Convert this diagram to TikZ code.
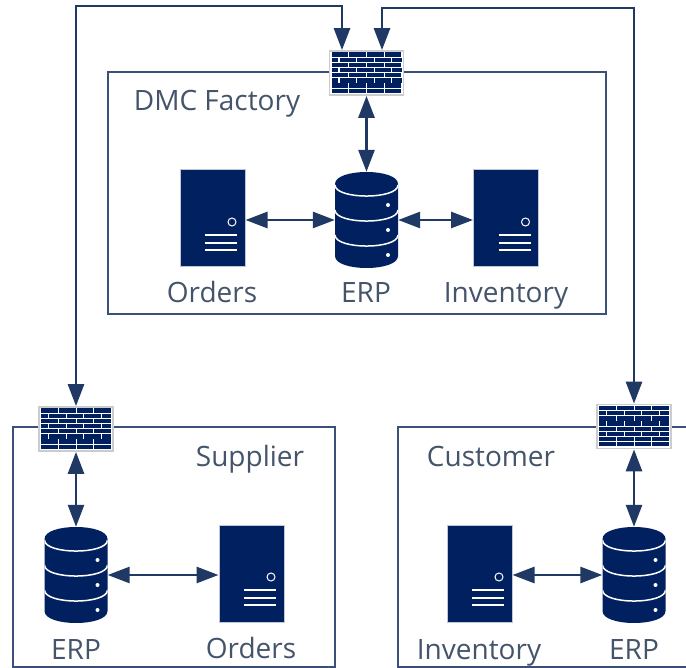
\documentclass[tikz,border=0pt]{standalone}
\usepackage{fontspec}
\setmainfont{Open Sans}
\usetikzlibrary{arrows.meta}
\definecolor{navy}{HTML}{002060}
\definecolor{linkblue}{HTML}{1F3864}
\definecolor{framec}{HTML}{3B5078}
\definecolor{labelc}{HTML}{44546A}
\tikzset{
  framebox/.style={draw=framec,line width=1.3pt},
  conn/.style={draw=linkblue,line width=2.8pt,{Triangle[length=22pt,width=16pt]}-{Triangle[length=22pt,width=16pt]}},
  lab/.style={text=labelc,font=\fontsize{28}{32}\selectfont,inner sep=0pt,anchor=base},
  serverbox/.style={rectangle,minimum width=65pt,minimum height=97pt,inner sep=0pt,draw=navy!25,line width=1pt,fill=navy,
    path picture={
      \begin{scope}[shift={(path picture bounding box.center)}]
        \draw[white,line width=1pt] (19.5,3.5) circle[radius=4pt];
        \foreach \yy in {16.5,24.5,31.5}{\draw[white,line width=1.3pt] (-7.5,\yy) -- (24.5,\yy);}
      \end{scope}}},
  dbbox/.style={rectangle,minimum width=63pt,minimum height=96pt,inner sep=0pt,
    path picture={
      \begin{scope}[shift={(path picture bounding box.center)}]
        \fill[navy] (-31.5,-36) .. controls (-31.5,-52) and (31.5,-52) .. (31.5,-36)
           -- (31.5,36) .. controls (31.5,52) and (-31.5,52) .. (-31.5,36) -- cycle;
        \foreach \yy in {-35,-10,15}{
          \draw[white,line width=1.5pt] (-31.5,\yy) .. controls (-31.5,\yy+14.7) and (31.5,\yy+14.7) .. (31.5,\yy);}
        \foreach \yy in {-15,10,35}{\fill[white] (21.5,\yy) circle[radius=2pt];}
      \end{scope}}},
  fwbox/.style={rectangle,minimum width=74pt,minimum height=44pt,inner sep=0pt,fill=white,draw=black!20,line width=1.8pt,
    path picture={
      \begin{scope}[shift={(path picture bounding box.center)}]
        \foreach \yy in {-20.5,-10.2,0.1,10.4,15.6}{
          \foreach \xx in {-35.2,-17.6,0,17.6}{\fill[navy] (\xx+.5,\yy) rectangle +(16.6,4.3);}}
        \foreach \yy in {-15.35,-5.05,5.25}{
          \fill[navy] (-35,\yy) rectangle +(6.8,4.3);
          \foreach \xx in {-27,-9.4,8.2}{\fill[navy] (\xx,\yy) rectangle +(16.6,4.3);}
          \fill[navy] (25.8,\yy) rectangle +(9.4,4.3);}
      \end{scope}}},
}
\begin{document}
\begin{tikzpicture}[x=1pt,y=-1pt]
\useasboundingbox (0,0) rectangle (686,668);
\fill[white] (0,0) rectangle (686,668);
% frames
\node[framebox,rectangle,minimum width=498pt,minimum height=242pt,inner sep=0pt] (factory) at (357,193) {};
\node[framebox,rectangle,minimum width=322pt,minimum height=240pt,inner sep=0pt] (supplier) at (174,547) {};
\draw[framebox] (686,427) -- (398,427) -- (398,667) -- (686,667);
% firewalls
\node[fwbox] (fwF) at (366.5,73) {};
\node[fwbox] (fwS) at (76,429) {};
\node[fwbox] (fwC) at (634,426.5) {};
% servers and databases
\node[serverbox] (ordF) at (212.5,218.5) {};
\node[serverbox] (invF) at (506,218.5) {};
\node[dbbox] (dbF) at (366.5,220) {};
\node[dbbox] (dbS) at (76,575) {};
\node[serverbox] (ordS) at (251.5,573.5) {};
\node[serverbox] (invC) at (479.5,573.5) {};
\node[dbbox] (dbC) at (634,575) {};
% connectors
\coordinate (cornerL) at (342,6);
\coordinate (cornerR) at (382,8);
\draw[conn] (fwS.north) |- (cornerL) -- (cornerL |- fwF.north);
\draw[conn] (fwC.north) |- (cornerR) -- (cornerR |- fwF.north);
\draw[conn] (fwF.south) -- (dbF.north);
\draw[conn] (ordF.east |- dbF.west) -- (dbF.west);
\draw[conn] (dbF.east) -- (dbF.east -| invF.west);
\draw[conn] (fwS.south) -- (dbS.north);
\draw[conn] (dbS.east) -- (dbS.east -| ordS.west);
\draw[conn] (fwC.south) -- (dbC.north);
\draw[conn] (invC.east |- dbC.west) -- (dbC.west);
% labels
\node[lab] (tF) at (217,111) {DMC Factory};
\node[lab] (tOF) at (212,303) {Orders};
\node[lab] (tEF) at (366,303) {ERP};
\node[lab] (tIF) at (506,303) {Inventory};
\node[lab] (tS) at (250,466) {Supplier};
\node[lab] (tC) at (491,466) {Customer};
\node[lab] (tES) at (76,659) {ERP};
\node[lab] (tOS) at (251,658) {Orders};
\node[lab] (tIC) at (479,659) {Inventory};
\node[lab] (tEC) at (634,659) {ERP};
\end{tikzpicture}
\end{document}
